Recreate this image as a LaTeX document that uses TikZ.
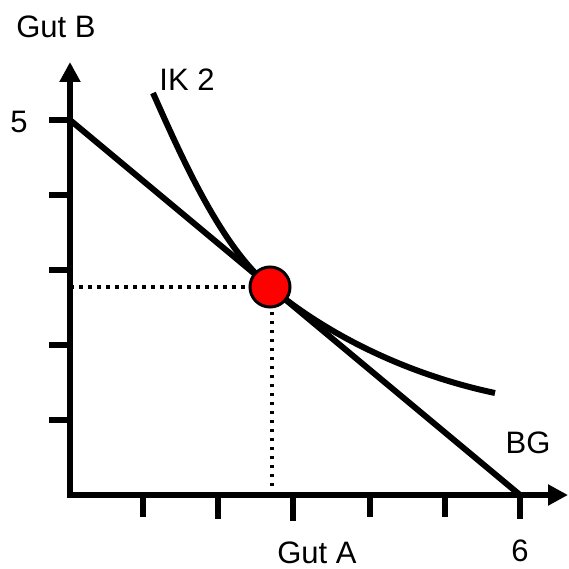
\documentclass[tikz,border=0pt]{standalone}
\usepackage{fontspec}
\setmainfont{Liberation Sans}
\usetikzlibrary{arrows.meta}
\tikzset{
  axis/.style={line width=6pt,-{Triangle[length=20pt,width=20pt]}},
  tick/.style={line width=6pt},
  thick curve/.style={line width=6pt},
  guide/.style={line width=3.5pt,dash pattern=on 3.5pt off 5.5pt},
  lbl/.style={font=\fontsize{31}{36}\selectfont,inner sep=0pt},
  dot/.style={circle,fill=red,draw=black,line width=3pt,minimum size=40pt,inner sep=0pt}
}
\begin{document}
\begin{tikzpicture}[x=1pt,y=-1pt]
\useasboundingbox[fill=white] (0,0) rectangle (568,569);
% coordinates
\coordinate (O) at (70,495);
\coordinate (Oy) at (70,497);
\coordinate (Ox) at (67,495);
\coordinate (Ytop) at (70,62);
\coordinate (Xend) at (568,495);
\coordinate (B5) at (70,120);
\coordinate (A6) at (520,495);
\coordinate (P) at (270,287);
\coordinate (Pl) at (70,287);
\coordinate (Pb) at (272,495);
\coordinate (IKs) at (153,93);
\coordinate (IKe) at (495,393);
% ticks
\foreach \y in {120,195,270,345,420} \draw[tick] (49,\y) -- (70,\y);
\foreach \x/\l in {143/517,218/519,293/521,370/517,445/517,520/519} \draw[tick] (\x,495) -- (\x,\l);
% dotted guides
\draw[guide] (Pl) -- (P);
\draw[guide] (Pb) -- (272,287);
% axes
\draw[axis] (Oy) -- (Ytop);
\draw[axis] (Ox) -- (Xend);
% budget line
\draw[thick curve] (B5) -- (A6);
% indifference curve
\draw[thick curve] (IKs) .. controls (185,165) and (222,247) .. (P)
  .. controls (330,337) and (410,375) .. (IKe);
% point
\node[dot] (pt) at (P) {};
% labels
\node[lbl] (gutb) at (56,27) {Gut B};
\node[lbl] (ik) at (187,80) {IK 2};
\node[lbl] (five) at (19,122) {5};
\node[lbl] (bg) at (528,443) {BG};
\node[lbl] (six) at (520,551) {6};
\node[lbl] (guta) at (317,553) {Gut A};
\end{tikzpicture}
\end{document}
